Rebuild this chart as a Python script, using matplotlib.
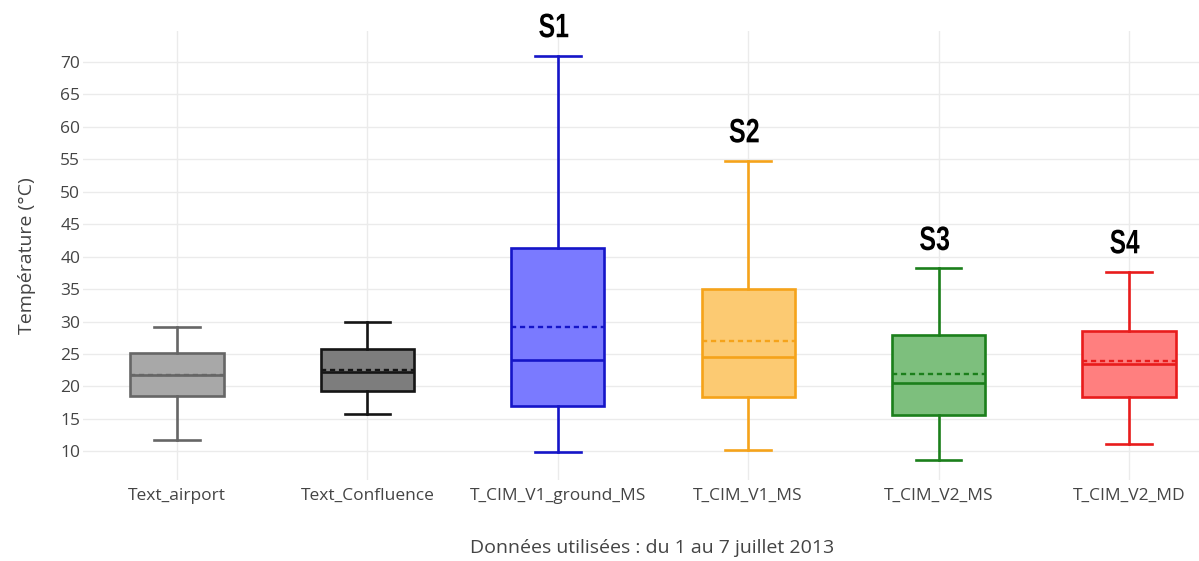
import matplotlib
matplotlib.use('Agg')
import matplotlib.pyplot as plt
from matplotlib.textpath import TextPath
from matplotlib.patches import PathPatch
from matplotlib.font_manager import FontProperties
from matplotlib.transforms import Affine2D, ScaledTranslation

matplotlib.rcParams['font.family'] = ['Open Sans', 'DejaVu Sans']

# ---- data --------------------------------------------------------------
categories = ['Text_airport', 'Text_Confluence', 'T_CIM_V1_ground_MS',
              'T_CIM_V1_MS', 'T_CIM_V2_MS', 'T_CIM_V2_MD']
whis_lo = [11.7, 15.7, 9.9, 10.2, 8.6, 11.2]
q1      = [18.6, 19.3, 17.0, 18.4, 15.6, 18.4]
median  = [21.7, 22.3, 24.1, 24.5, 20.5, 23.5]
mean    = [21.7, 22.6, 29.2, 27.0, 22.0, 23.9]
q3      = [25.2, 25.7, 41.3, 35.0, 27.9, 28.6]
whis_hi = [29.1, 30.0, 71.0, 54.8, 38.2, 37.7]

site_labels = ['', '', 'S1', 'S2', 'S3', 'S4']
yticks = list(range(10, 75, 5))

edge_colors = ['#666666', '#151515', '#1515c8', '#f5a31a', '#1b7f1b', '#e81c1c']
face_colors = ['#a8a8a8', '#7d7d7d', '#7a7aff', '#fcca72', '#7dbf7d', '#ff7f7f']

# ---- figure --------------------------------------------------------------
fig = plt.figure(figsize=(11.99, 5.61), dpi=100)
ax = fig.add_axes([0.0692, 0.1444, 0.9308, 0.8003])

stats = []
for i, name in enumerate(categories):
    stats.append(dict(label=name, whislo=whis_lo[i], q1=q1[i], med=median[i],
                      mean=mean[i], q3=q3[i], whishi=whis_hi[i], fliers=[]))

pos = list(range(len(categories)))
bp = ax.bxp(stats, positions=pos, widths=0.49, capwidths=0.24,
            patch_artist=True, showmeans=True, meanline=True,
            showfliers=False, zorder=3)

for i in range(len(categories)):
    ec, fc = edge_colors[i], face_colors[i]
    bp['boxes'][i].set(facecolor=fc, edgecolor=ec, linewidth=1.9)
    bp['medians'][i].set(color=ec, linewidth=1.9)
    bp['means'][i].set(color=ec, linewidth=1.7, linestyle=(0, (2.2, 1.6)))
    for w in bp['whiskers'][2 * i:2 * i + 2]:
        w.set(color=ec, linewidth=1.9)
    for c in bp['caps'][2 * i:2 * i + 2]:
        c.set(color=ec, linewidth=1.9)

# site labels (narrow bold letters) above the upper whiskers
fp = FontProperties(family='Liberation Sans', weight='bold')
for i, lab in enumerate(site_labels):
    if not lab:
        continue
    tp = TextPath((0, 0), lab, size=1, prop=fp)
    ext = tp.get_extents()
    sx, sy = 29.0 / ext.width, 24.0 / ext.height      # pixels
    trans = (Affine2D().translate(-ext.x0 - ext.width / 2, -ext.y0 - ext.height / 2)
             .scale(sx, sy).translate(-4, 30)
             + ScaledTranslation(pos[i], whis_hi[i], ax.transData))
    ax.add_patch(PathPatch(tp, transform=trans, facecolor='black',
                           edgecolor='none', clip_on=False, zorder=5))

ax.set_xlim(-0.494, 5.368)
ax.set_ylim(5.59, 74.78)
ax.set_yticks(yticks)
ax.set_xticks(pos)
ax.set_xticklabels(categories)

ax.grid(True, color='#ebebeb', linewidth=1.0, zorder=0)
ax.set_axisbelow(True)
for s in ax.spines.values():
    s.set_visible(False)
ax.tick_params(axis='both', length=0, labelsize=12.5, colors='#444444')
ax.tick_params(axis='y', pad=2)
ax.tick_params(axis='x', pad=6)

ax.set_ylabel('Température (°C)', fontsize=14, color='#444444')
ax.yaxis.set_label_coords(-0.042, 0.5)
fig.text(0.544, 0.023, 'Données utilisées : du 1 au 7 juillet 2013',
         ha='center', va='center', fontsize=14, color='#444444')

fig.savefig('out.png', dpi=100)
